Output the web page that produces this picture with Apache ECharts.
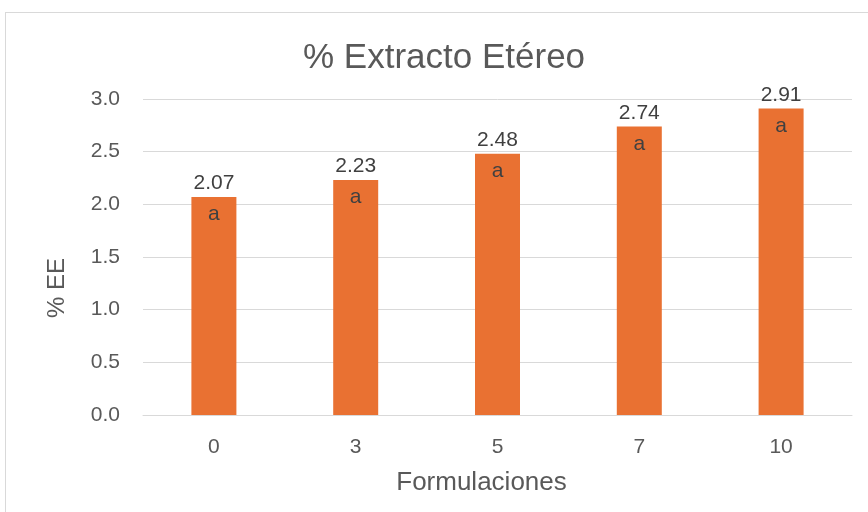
<!DOCTYPE html>
<html>
<head>
<meta charset="utf-8">
<script src="https://cdn.jsdelivr.net/npm/echarts@6/dist/echarts.min.js"></script>
<style>
  html, body { margin: 0; padding: 0; background: #fff; }
  #frame { position: absolute; left: 5px; top: 12px; width: 880px; height: 520px; border: 1px solid #d9d9d9; box-sizing: border-box; }
  #chart { position: absolute; left: 0; top: 0; width: 868px; height: 512px; }
</style>
</head>
<body>
<div id="frame"></div>
<div id="chart"></div>
<script>
  // datos
  const formulaciones = ['0', '3', '5', '7', '10']
  const extractoEtereo = [2.07, 2.23, 2.48, 2.74, 2.91]
  const letras = ['a', 'a', 'a', 'a', 'a']

  const textColor = '#595959'
  const font = '"Liberation Sans", Arial, sans-serif'

  const chart = echarts.init(document.getElementById('chart'))
  chart.setOption({
    backgroundColor: 'transparent',
    animation: false,
    title: {
      text: '% Extracto Etéreo',
      left: 298,
      top: 36,
      textStyle: { color: textColor, fontSize: 35, fontWeight: 'normal', fontFamily: font }
    },
    grid: { left: 143, right: 16, top: 99, bottom: 97 },
    xAxis: {
      type: 'category',
      data: formulaciones,
      name: 'Formulaciones',
      nameLocation: 'middle',
      nameGap: 55,
      nameTextStyle: { color: textColor, fontSize: 26, fontFamily: font, padding: [0, 32, 0, 0] },
      axisLine: { lineStyle: { color: '#d9d9d9', width: 1 } },
      axisTick: { show: false },
      axisLabel: { color: textColor, fontSize: 21, margin: 22, fontFamily: font }
    },
    yAxis: {
      type: 'value',
      min: 0,
      max: 3,
      interval: 0.5,
      name: '% EE',
      nameLocation: 'middle',
      nameGap: 74,
      nameRotate: 90,
      nameTextStyle: { color: textColor, fontSize: 24, fontFamily: font, padding: [0, 62, 0, 0] },
      axisLine: { show: false },
      axisTick: { show: false },
      axisLabel: { color: textColor, fontSize: 21, margin: 23, fontFamily: font, formatter: v => v.toFixed(1) },
      splitLine: { lineStyle: { color: '#d9d9d9', width: 1 } }
    },
    series: [
      {
        type: 'bar',
        data: extractoEtereo,
        barWidth: 45,
        itemStyle: { color: '#E97132' },
        label: {
          show: true,
          position: 'insideTop',
          distance: 7,
          color: '#404040',
          fontSize: 21,
          fontFamily: font,
          formatter: p => letras[p.dataIndex]
        }
      },
      {
        type: 'bar',
        data: extractoEtereo,
        barWidth: 45,
        barGap: '-100%',
        itemStyle: { color: 'transparent' },
        label: {
          show: true,
          position: 'top',
          distance: 3,
          color: '#404040',
          fontSize: 21,
          fontFamily: font,
          formatter: p => p.value.toFixed(2)
        }
      }
    ]
  })
</script>
</body>
</html>
